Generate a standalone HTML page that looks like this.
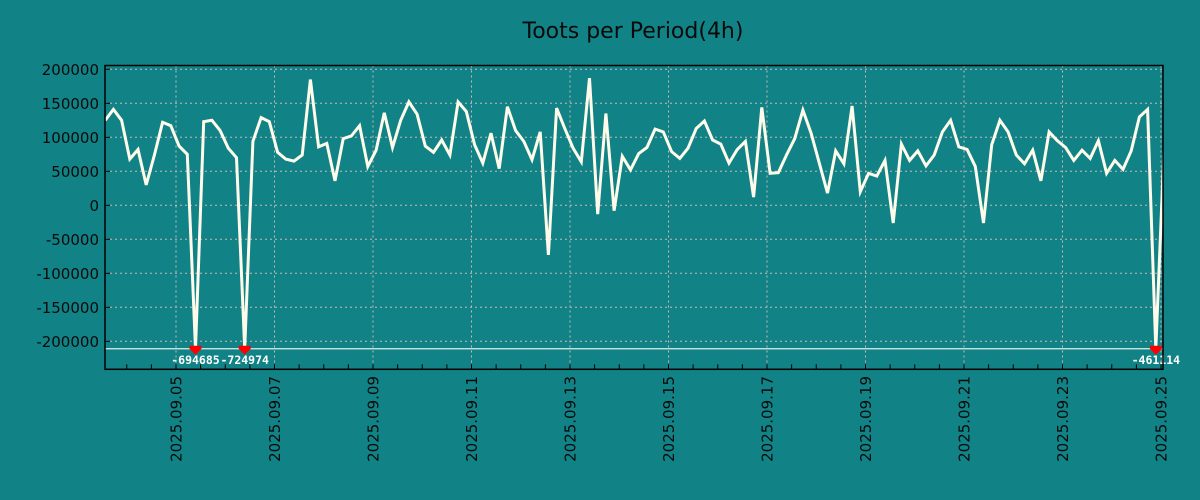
<!DOCTYPE html>
<html><head><meta charset="utf-8"><style>
html,body{margin:0;padding:0;background:#118386;}
svg{display:block;font-family:"DejaVu Sans","Liberation Sans",sans-serif;}
</style></head><body>
<svg id="chart" width="1200" height="500" viewBox="0 0 1200 500" xmlns="http://www.w3.org/2000/svg">
<rect width="1200" height="500" fill="#118386"/>
<text x="633" y="38" text-anchor="middle" font-size="22" fill="#0a0a0a">Toots per Period(4h)</text>
<g id="grid"></g>
<g id="ticks"></g>
<g id="series"></g>
<rect x="105" y="65.5" width="1058" height="303.8" fill="none" stroke="#000" stroke-width="1.5"/>
</svg>
<script>
const values = [125000,141000,125000,68000,82000,30000,74000,122000,117000,87000,75000,-694685,123000,125000,110000,84000,70000,-724974,94000,129000,123000,78000,68000,65000,74000,185000,86000,91000,36000,98000,102000,117000,57000,81000,136000,85000,125000,152000,134000,87000,78000,96000,74000,152000,138000,89000,62000,106000,54000,145000,110000,94000,67000,108000,-73000,143000,113000,84000,64000,187000,-13000,135000,-8000,72000,52000,76000,85000,112000,108000,79000,69000,84000,113000,124000,96000,90000,62000,82000,94000,12000,144000,47000,48000,74000,98000,140000,106000,62000,18000,80000,61000,146000,20000,47000,43000,66000,-26000,90000,66000,80000,58000,74000,108000,125000,86000,82000,57000,-26000,89000,125000,108000,74000,61000,81000,36000,108000,95000,85000,66000,81000,69000,95000,47000,66000,53000,80000,130000,141000,-461114,86000];
const yTicks = [200000,150000,100000,50000,0,-50000,-100000,-150000,-200000];
const xTickLabels = ["2025.09.05","2025.09.07","2025.09.09","2025.09.11","2025.09.13","2025.09.15","2025.09.17","2025.09.19","2025.09.21","2025.09.23","2025.09.25"];
const xTickDays = [0,2,4,6,8,10,12,14,16,18,20];
const clipValue = -211000;

const NS="http://www.w3.org/2000/svg";
const L=105,R=1163,T=65.5,B=369.3;
function yScale(v){return 205.3-(v/50000)*34;}
function dayX(d){return 176+d*49.25;}
const startDay=-1.438, stepDay=1/6;
function idxX(i){return dayX(startDay+i*stepDay);}
function mk(tag,attrs,parent){const e=document.createElementNS(NS,tag);for(const k in attrs)e.setAttribute(k,attrs[k]);parent.appendChild(e);return e;}
const svg=document.getElementById('chart');
const grid=document.getElementById('grid'),ticks=document.getElementById('ticks'),series=document.getElementById('series');
const defs=mk('defs',{},svg);
const cp=mk('clipPath',{id:'pc'},defs);mk('rect',{x:L,y:T,width:R-L,height:B-T},cp);

yTicks.forEach(v=>{
  const y=yScale(v);
  const g=mk('line',{x1:L,x2:R,y1:y,y2:y,stroke:'#c8b8b8','stroke-width':1,'stroke-dasharray':'2,3'},grid);
  
  
  const t=mk('line',{x1:L,x2:L+5,y1:y,y2:y,stroke:'#000'},ticks);
  
  
  const lb=mk('text',{x:99,y:y+5.5,'text-anchor':'end','font-size':15,fill:'#0a0a0a'},ticks);
  lb.textContent=v;
  
  
});
for(let d=-1.5;d<=20.1;d+=0.5){
  const x=dayX(d); if(x<L||x>R)continue;
  const t=mk('line',{x1:x,x2:x,y1:B,y2:B-5,stroke:'#000'},ticks);
  
  
}
xTickDays.forEach((d,i)=>{
  const x=dayX(d);
  const g=mk('line',{x1:x,x2:x,y1:T,y2:B,stroke:'#c8b8b8','stroke-width':1,'stroke-dasharray':'2,3'},grid);
  
  
  const lb=mk('text',{x:0,y:0,'text-anchor':'end','font-size':15,fill:'#0a0a0a',transform:`translate(${x+5.5},376) rotate(-90)`},ticks);
  lb.textContent=xTickLabels[i];
  
  
});
const cy=yScale(clipValue);
const cl=mk('line',{x1:L,x2:R,y1:cy,y2:cy,stroke:'#dff0ee','stroke-width':1.2},series);


const pts=values.map((v,i)=>[idxX(i),v<clipValue?cy:yScale(v)]);
const line=mk('polyline',{points:pts.map(p=>p[0].toFixed(1)+','+p[1].toFixed(1)).join(' '),fill:'none',stroke:'#fffbea','stroke-width':3,'stroke-linejoin':'miter','clip-path':'url(#pc)'},series);


values.forEach((v,i)=>{
  if(v>=clipValue)return;
  const x=idxX(i);
  const m=mk('path',{d:`M${x-6},${cy-3}H${x+6}V${cy}L${x},${cy+6}L${x-6},${cy}Z`,fill:'#ff0000'},series);
  
  
  const lb=mk('text',{x:x,y:cy+15,'text-anchor':'middle','font-size':11.5,'font-weight':'bold','font-family':'"DejaVu Sans Mono","Liberation Mono",monospace',fill:'#ffffff'},series);
  lb.textContent=v;
  
  
});
</script>
</body></html>
